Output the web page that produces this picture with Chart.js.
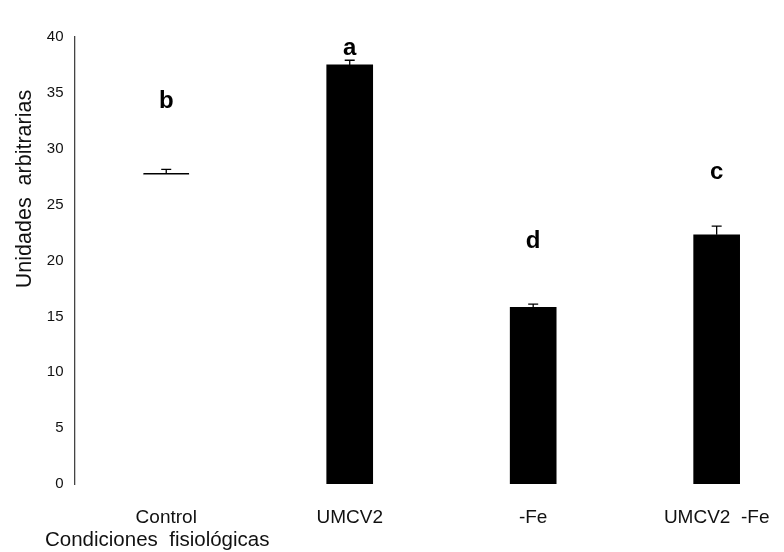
<!DOCTYPE html>
<html>
<head>
<meta charset="utf-8">
<script src="https://cdn.jsdelivr.net/npm/chart.js@4/dist/chart.umd.min.js"></script>
<style>
html,body{margin:0;padding:0;background:#fff;}
#wrap{width:784px;height:552px;position:relative;}
</style>
</head>
<body>
<div id="wrap"><canvas id="c" width="784" height="552"></canvas></div>
<script>
const categories = ['Control', 'UMCV2', '-Fe', 'UMCV2  -Fe'];
const values = [27.8, 37.5, 15.8, 22.3];
const errors = [0.36, 0.42, 0.3, 0.77];
const letters = ['b', 'a', 'd', 'c'];
const letterValues = [34.2, 39.0, 21.7, 27.9];
const yTicks = [0, 5, 10, 15, 20, 25, 30, 35, 40];
const yTitle = 'Unidades  arbitrarias';
const xTitle = 'Condiciones  fisiológicas';
const barColors = ['#ffffff', '#000000', '#000000', '#000000'];

const FONT = "'Liberation Sans', Arial, sans-serif";

const annotate = {
  id: 'annotate',
  afterDatasetsDraw(chart) {
    const ctx = chart.ctx, xs = chart.scales.x, ys = chart.scales.y;
    ctx.save();
    ctx.strokeStyle = '#000';
    ctx.lineWidth = 1.3;
    values.forEach((v, i) => {
      const x = xs.getPixelForValue(i);
      const y0 = ys.getPixelForValue(v);
      const y1 = ys.getPixelForValue(v + errors[i]);
      ctx.beginPath();
      ctx.moveTo(x, y0); ctx.lineTo(x, y1);
      ctx.moveTo(x - 5, y1); ctx.lineTo(x + 5, y1);
      ctx.stroke();
    });
    ctx.fillStyle = '#000';
    ctx.font = 'bold 24px ' + FONT;
    ctx.textAlign = 'center';
    ctx.textBaseline = 'middle';
    letters.forEach((t, i) => {
      ctx.fillText(t, xs.getPixelForValue(i), ys.getPixelForValue(letterValues[i]));
    });
    // axis titles
    ctx.font = '20.5px ' + FONT;
    ctx.fillStyle = '#111';
    ctx.textAlign = 'left';
    ctx.textBaseline = 'alphabetic';
    ctx.fillText(xTitle, 45, 546);
    ctx.translate(31, 189);
    ctx.rotate(-Math.PI / 2);
    ctx.textAlign = 'center';
    ctx.font = '21.5px ' + FONT;
    ctx.fillText(yTitle, 0, 0);
    ctx.restore();
  }
};

new Chart(document.getElementById('c'), {
  type: 'bar',
  data: {
    datasets: [{
      data: categories.map((c, i) => ({ x: i, y: values[i] })),
      backgroundColor: barColors,
      borderColor: '#000',
      borderWidth: values.map((v, i) => i === 0 ? { top: 1.5, left: 0, right: 0, bottom: 0 } : 0),
      borderSkipped: false,
      barThickness: 46
    }]
  },
  options: {
    responsive: false,
    animation: false,
    devicePixelRatio: 1,
    layout: { padding: { top: 37, right: 0, left: 0, bottom: 0 } },
    plugins: { legend: { display: false }, tooltip: { enabled: false }, title: { display: false } },
    scales: {
      x: {
        type: 'linear',
        offset: false,
        min: -0.5,
        max: 3.367,
        grid: { display: false, drawTicks: false, offset: false },
        border: { display: false },
        afterBuildTicks(s) { s.ticks = categories.map((c, i) => ({ value: i })); },
        afterFit(s) { s.height = 68; s.paddingLeft = 0; s.paddingRight = 0; },
        ticks: {
          autoSkip: false,
          maxRotation: 0,
          padding: 22,
          color: '#111',
          font: { family: FONT, size: 19 },
          callback: (v) => categories[v] !== undefined ? categories[v] : ''
        }
      },
      y: {
        min: 0,
        max: 40,
        grid: { display: false, drawTicks: false },
        border: { display: true, color: '#444', width: 1.3 },
        afterBuildTicks(s) { s.ticks = yTicks.map(v => ({ value: v })); },
        afterFit(s) { s.width = 74.5; },
        ticks: {
          padding: 11,
          color: '#111',
          font: { family: FONT, size: 15 }
        }
      }
    }
  },
  plugins: [annotate]
});
</script>
</body>
</html>
